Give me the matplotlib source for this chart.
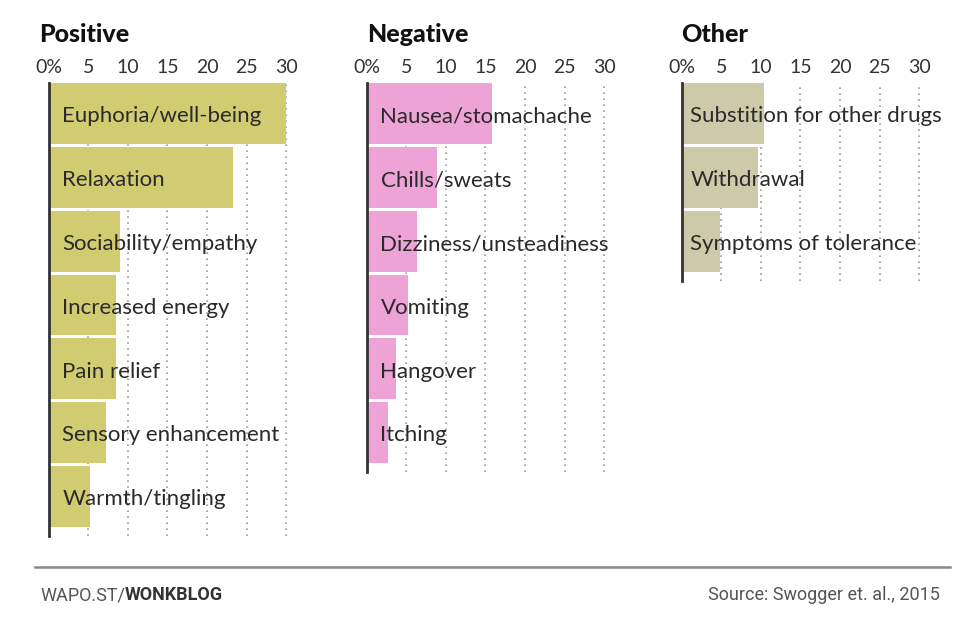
import matplotlib
matplotlib.use("Agg")
import matplotlib.pyplot as plt

pos_labels = ["Euphoria/well-being", "Relaxation", "Sociability/empathy", "Increased energy",
              "Pain relief", "Sensory enhancement", "Warmth/tingling"]
pos_values = [30.0, 23.3, 9.0, 8.5, 8.5, 7.2, 5.3]

neg_labels = ["Nausea/stomachache", "Chills/sweats", "Dizziness/unsteadiness", "Vomiting",
              "Hangover", "Itching"]
neg_values = [15.8, 8.9, 6.4, 5.2, 3.7, 2.7]

oth_labels = ["Substition for other drugs", "Withdrawal", "Symptoms of tolerance"]
oth_values = [10.4, 9.6, 4.8]

ticks = [0, 5, 10, 15, 20, 25, 30]
tick_labels = ["0%", "5", "10", "15", "20", "25", "30"]

W, H = 978, 621
fig = plt.figure(figsize=(W / 100, H / 100), dpi=100)

FONT = "Lato"
pitch = 63.8
top_px = 83

panels = [
    ("Positive", pos_labels, pos_values, "#d1cc72", 48.5, 39, 14),
    ("Negative", neg_labels, neg_values, "#eda3d6", 366.5, 367, 14),
    ("Other", oth_labels, oth_values, "#cdcaa9", 681.5, 681, 9),
]

for title, labels, values, color, left_px, title_px, txt_off in panels:
    n = len(labels)
    height_px = (n + 0.1) * pitch
    right_px = left_px + 30 * 7.95
    ax = fig.add_axes([left_px / W, 1 - (top_px + height_px) / H,
                       (right_px - left_px) / W, height_px / H])
    ys = list(range(n))
    ax.barh([y + 0.48 for y in ys], values, height=0.955, color=color, zorder=2)
    ax.set_xlim(0, 30.1)
    ax.set_ylim(n + 0.1, 0)
    for sp in ["top", "right", "bottom"]:
        ax.spines[sp].set_visible(False)
    ax.spines["left"].set_color("#333333")
    ax.spines["left"].set_linewidth(2)
    ax.spines["left"].set_zorder(4)
    ax.set_yticks([])
    ax.set_xticks(ticks)
    ax.set_xticklabels(tick_labels, fontfamily=FONT, fontsize=14, color="#333333")
    ax.xaxis.tick_top()
    ax.tick_params(axis="x", length=0, pad=5)
    for t in ticks[1:]:
        ax.axvline(t, color="#9a9a9a", linestyle=(0, (1, 2.6)), linewidth=1.2, zorder=1)
    for y, lab in zip(ys, labels):
        ax.annotate(lab, xy=(0, y + 0.48), xytext=(txt_off * 0.72, -2),
                    textcoords="offset points", va="center", ha="left",
                    fontfamily=FONT, fontsize=16, color="#2a2a2a", zorder=5)
    fig.text(title_px / W, 1 - 35 / H, title, fontfamily=FONT, fontsize=18,
             fontweight="black", color="#111111", va="center", ha="left")

# footer
fig.add_artist(plt.Line2D([35 / W, 950 / W], [1 - 567 / H, 1 - 567 / H],
                          color="#888888", linewidth=1.8))
t1 = fig.text(40 / W, 1 - 595 / H, "WAPO.ST/", fontfamily="Roboto", fontsize=13,
              color="#555555", va="center", ha="left")
fig.canvas.draw()
bb = t1.get_window_extent()
fig.text(bb.x1 / W, 1 - 595 / H, "WONKBLOG", fontfamily="Roboto", fontsize=13,
         fontweight="bold", color="#333333", va="center", ha="left")
fig.text(940 / W, 1 - 595 / H, "Source: Swogger et. al., 2015", fontfamily="Roboto",
         fontsize=13, color="#555555", va="center", ha="right")

fig.savefig("out.png", dpi=100, facecolor="white")
